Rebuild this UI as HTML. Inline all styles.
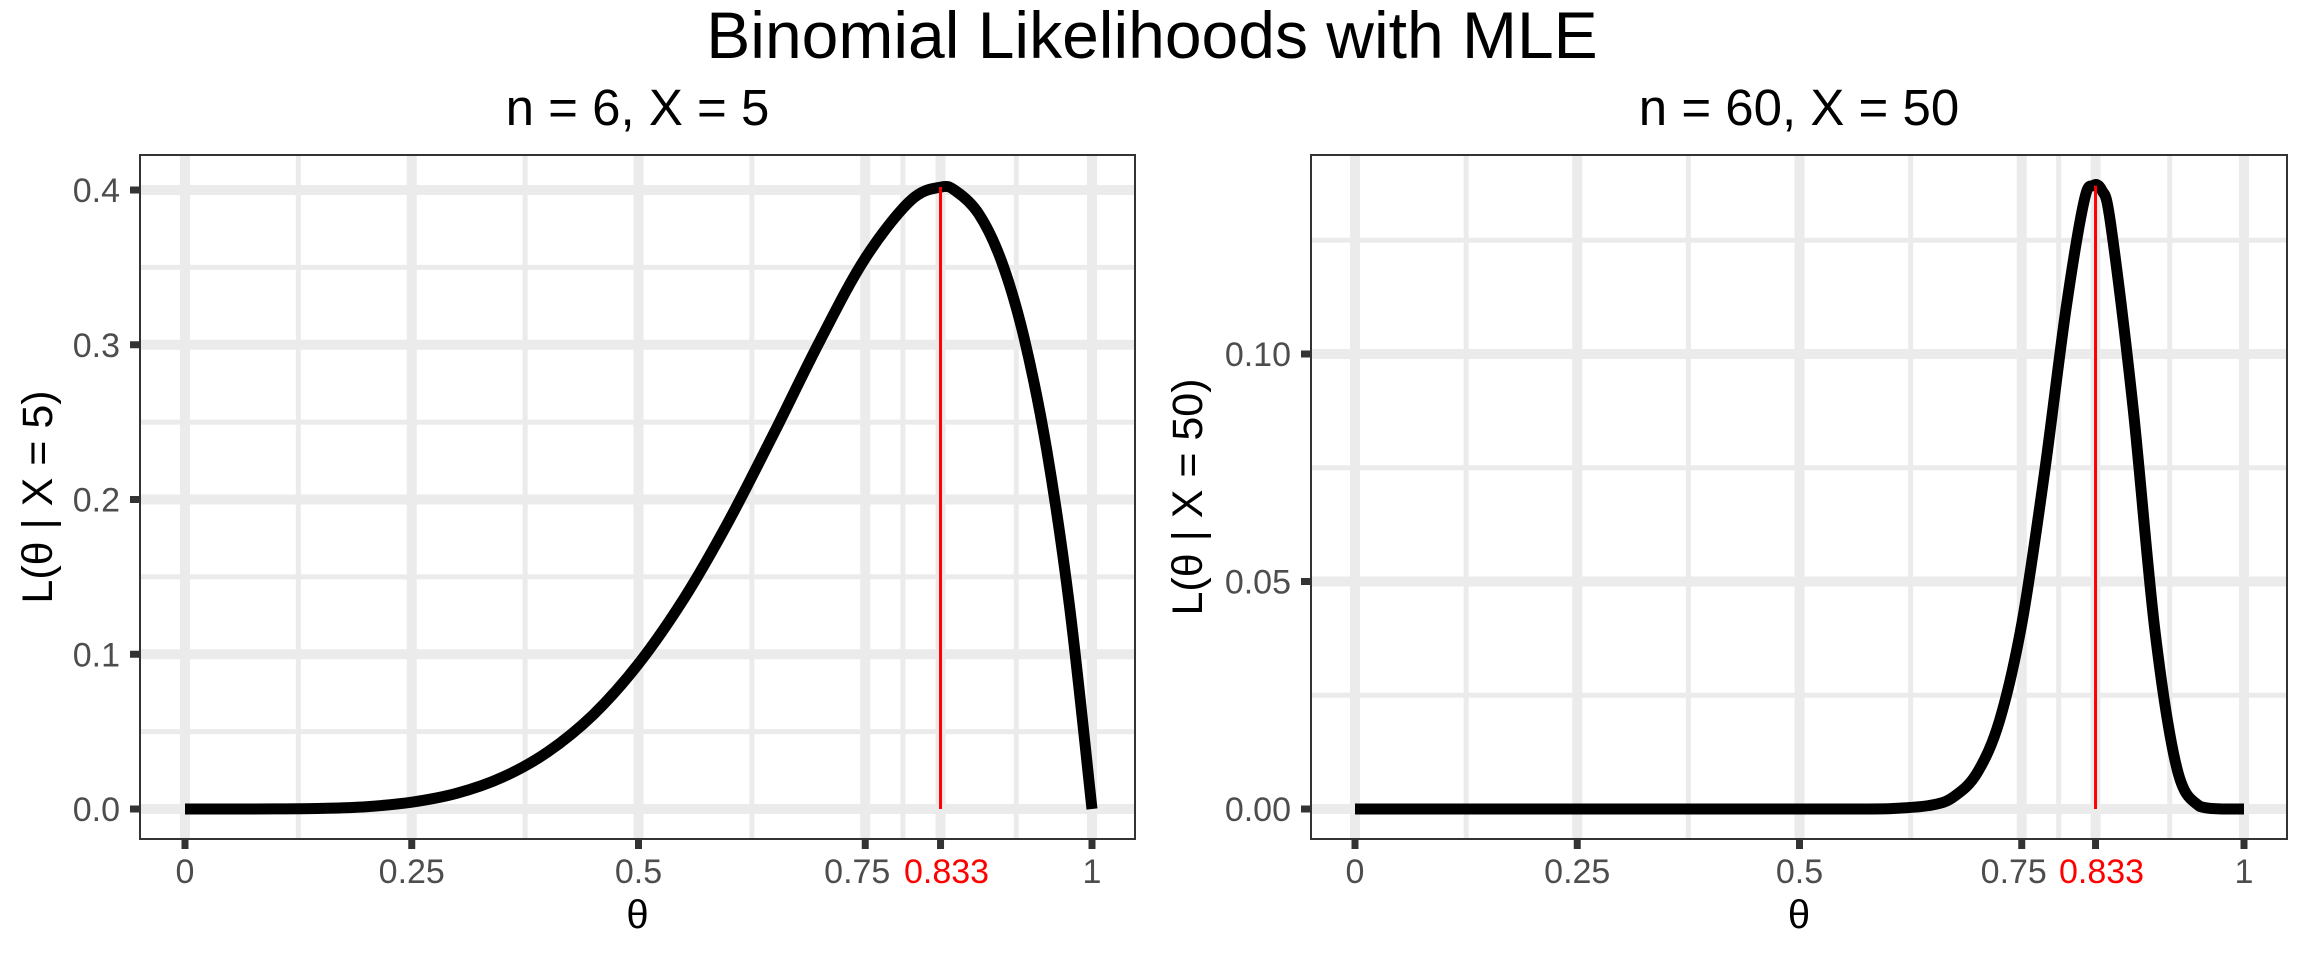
<!DOCTYPE html>
<html><head><meta charset="utf-8"><style>
html,body{margin:0;padding:0;background:#fff;}
svg{display:block;font-family:"Liberation Sans",sans-serif;}
</style></head><body>
<svg id="chart" width="2304" height="960" viewBox="0 0 2304 960" xmlns="http://www.w3.org/2000/svg">
<text x="1152" y="58" font-size="66" text-anchor="middle" fill="#000">Binomial Likelihoods with MLE</text>
</svg>
<script>
const xTicks = [0, 0.25, 0.5, 0.75, 0.833, 1];
const xTickLabels = ["0", "0.25", "0.5", "0.75", "0.833", "1"];
const xMinor = [0.125, 0.375, 0.625, 0.7915, 0.9165];
const mle = 0.833;
const theta1 = [0,0.05,0.1,0.15,0.2,0.25,0.3,0.35,0.4,0.45,0.5,0.55,0.6,0.65,0.7,0.75,0.8,0.8333,0.85,0.875,0.9,0.925,0.95,0.975,1];
const like1 = [0,0,0.00005,0.0004,0.0015,0.0044,0.0102,0.0205,0.0369,0.0609,0.0938,0.1359,0.1866,0.2437,0.3025,0.356,0.3932,0.4019,0.3993,0.3847,0.3543,0.3047,0.2321,0.1322,0];
const yTicks1 = [0,0.1,0.2,0.3,0.4];
const yTickLabels1 = ["0.0","0.1","0.2","0.3","0.4"];
const yMinor1 = [0.05,0.15,0.25,0.35];
const theta2 = [0,0.1,0.2,0.3,0.4,0.5,0.55,0.6,0.65,0.675,0.7,0.725,0.75,0.775,0.8,0.82,0.83,0.84,0.85,0.875,0.9,0.925,0.95,0.975,1];
const like2 = [0,0,0,0,0,0,0.00001,0.00006,0.0009,0.0029,0.008,0.0194,0.0407,0.0731,0.1102,0.1335,0.137,0.136,0.1285,0.0885,0.0389,0.0086,0.0006,0,0];
const yTicks2 = [0,0.05,0.10];
const yTickLabels2 = ["0.00","0.05","0.10"];
const yMinor2 = [0.025,0.075,0.125];

const NS = "http://www.w3.org/2000/svg";
const svg = document.getElementById('chart');
function mk(tag, attrs, parent){const e=document.createElementNS(NS,tag);for(const k in attrs)e.setAttribute(k,attrs[k]);(parent||svg).appendChild(e);return e;}
function smoothPath(p, floorY){
  let d='M'+p[0][0].toFixed(1)+','+p[0][1].toFixed(1);
  for(let i=0;i<p.length-1;i++){
    const p0=p[i-1]||p[i],p1=p[i],p2=p[i+1],p3=p[i+2]||p[i+1];
    const c1=[p1[0]+(p2[0]-p0[0])/6,Math.min(floorY,p1[1]+(p2[1]-p0[1])/6)];
    const c2=[p2[0]-(p3[0]-p1[0])/6,Math.min(floorY,p2[1]-(p3[1]-p1[1])/6)];
    d+=' C'+c1[0].toFixed(1)+','+c1[1].toFixed(1)+' '+c2[0].toFixed(1)+','+c2[1].toFixed(1)+' '+p2[0].toFixed(1)+','+p2[1].toFixed(1);
  }
  return d;
}

function panel(cfg){
  const g = mk('g',{});
  
  
  const L=cfg.left,R=cfg.right,T=155,B=839;
  const xs = v => cfg.x0 + v*(cfg.x1-cfg.x0);
  const ys = v => 809 - v*cfg.ppu;
  mk('rect',{x:L,y:T,width:R-L,height:B-T,fill:'#fff'},g);
  cfg.yMinor.forEach(v=>mk('line',{x1:L,x2:R,y1:ys(v),y2:ys(v),stroke:'#ebebeb','stroke-width':5},g));
  xMinor.forEach(v=>mk('line',{x1:xs(v),x2:xs(v),y1:T,y2:B,stroke:'#ebebeb','stroke-width':5},g));
  cfg.yTicks.forEach(v=>mk('line',{x1:L,x2:R,y1:ys(v),y2:ys(v),stroke:'#ebebeb','stroke-width':10},g));
  xTicks.forEach(v=>mk('line',{x1:xs(v),x2:xs(v),y1:T,y2:B,stroke:'#ebebeb','stroke-width':10},g));
  const pts = cfg.theta.map((t,i)=>[xs(t),ys(cfg.like[i])]);
  const line = mk('path',{d:smoothPath(pts, ys(0)),fill:'none',stroke:'#000','stroke-width':11,'stroke-linejoin':'round'},g);
  
  
  let mx=0;cfg.like.forEach(v=>{if(v>mx)mx=v;});
  const red = mk('line',{x1:xs(mle),x2:xs(mle),y1:ys(0),y2:ys(mx),stroke:'#ff0000','stroke-width':3},g);
  
  
  mk('rect',{x:L,y:T,width:R-L,height:B-T,fill:'none',stroke:'#333','stroke-width':2},g);
  cfg.yTicks.forEach((v,i)=>{
    mk('line',{x1:L-10,x2:L,y1:ys(v),y2:ys(v),stroke:'#333','stroke-width':7},g);
    const t=mk('text',{x:L-20,y:ys(v)+12,'font-size':34,fill:'#4d4d4d','text-anchor':'end'},g);
    t.textContent=cfg.yLabels[i];
    
    
  });
  xTicks.forEach((v,i)=>{
    mk('line',{x1:xs(v),x2:xs(v),y1:B,y2:B+10,stroke:'#333','stroke-width':7},g);
    const red2 = v===mle;
    const t=mk('text',{x:xs(v)+(red2?6:(v===0.75?-8:0)),y:883,'font-size':34,fill:red2?'#ff0000':'#4d4d4d','text-anchor':'middle'},g);
    t.textContent=xTickLabels[i];
    
    
  });
  const xt=mk('text',{x:(L+R)/2,y:928,'font-size':40,fill:'#000','text-anchor':'middle'},g);
  xt.textContent='θ';
  
  
  const yt=mk('text',{x:0,y:0,'font-size':43,fill:'#000','text-anchor':'middle',transform:'translate('+cfg.ytx+','+((T+B)/2)+') rotate(-90)'},g);
  yt.textContent=cfg.ytitle;
  
  
  const st=mk('text',{x:(L+R)/2,y:125,'font-size':51,fill:'#000','text-anchor':'middle'},g);
  st.textContent=cfg.sub;
  
  
}
panel({name:'panel-n6',left:140,right:1135,x0:185,x1:1092,ppu:1547.5,ytx:52,theta:theta1,like:like1,yTicks:yTicks1,yLabels:yTickLabels1,yMinor:yMinor1,ytitle:'L(θ | X = 5)',sub:'n = 6, X = 5'});
panel({name:'panel-n60',left:1311,right:2287,x0:1355,x1:2244,ppu:4550,ytx:1202,theta:theta2,like:like2,yTicks:yTicks2,yLabels:yTickLabels2,yMinor:yMinor2,ytitle:'L(θ | X = 50)',sub:'n = 60, X = 50'});
</script>
</body></html>
